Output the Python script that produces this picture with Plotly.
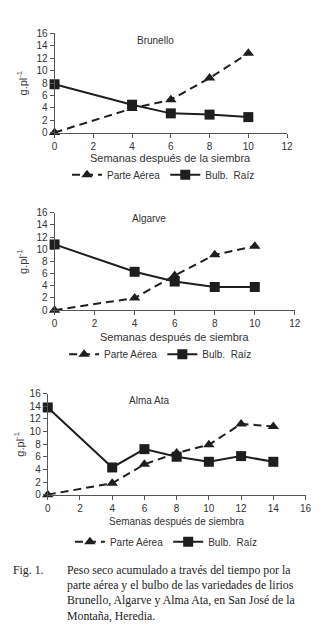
import plotly.graph_objects as go

# ---- data ----
weeks_bru = [0, 4, 6, 8, 10]
bru_aerea = [0.0, 3.9, 5.3, 8.8, 12.8]
bru_bulbo = [7.8, 4.5, 3.1, 2.9, 2.5]

weeks_alg = [0, 4, 6, 8, 10]
alg_aerea = [0.0, 2.0, 5.7, 9.1, 10.5]
alg_bulbo = [10.8, 6.3, 4.7, 3.8, 3.8]

weeks_alm = [0, 4, 6, 8, 10, 12, 14]
alm_aerea = [0.0, 1.8, 4.8, 6.6, 7.9, 11.2, 10.8]
alm_bulbo = [13.8, 4.3, 7.2, 6.0, 5.2, 6.1, 5.2]

titles = ["Brunello", "Algarve", "Alma Ata"]
xtitles = ["Semanas después de la siembra", "Semanas después de siembra", "Semanas después de siembra"]
series_names = ["Parte Aérea", "Bulb.  Raíz"]
caption_label = "Fig. 1."
caption_lines = [
    "Peso seco acumulado a través del tiempo por la",
    "parte aérea y el bulbo de las variedades de lirios",
    "Brunello, Algarve y Alma Ata, en San José de la",
    "Montaña, Heredia.",
]

W, H = 331, 638
def px(x): return x / W
def py(y): return (H - y) / H

LINE = "#1e1e1e"
TXT = "#333333"
FONT = "Liberation Sans"

fig = go.Figure()

panels = [
    dict(x=weeks_bru, a=bru_aerea, b=bru_bulbo, xd=[53, 292], yd=[129, 28], xmax=12, ax="", leg="legend",
         title_xy=(157, 35), xt_y=155, leg_xy=(165, 172), yt_x=20),
    dict(x=weeks_alg, a=alg_aerea, b=alg_bulbo, xd=[53, 300], yd=[310, 210.7], xmax=12, ax="2", leg="legend2",
         title_xy=(150, 217), xt_y=337, leg_xy=(162, 355), yt_x=20),
    dict(x=weeks_alm, a=alm_aerea, b=alm_bulbo, xd=[46, 311], yd=[498, 395], xmax=16, ax="3", leg="legend3",
         title_xy=(150, 402), xt_y=525, leg_xy=(168, 546), yt_x=17),
]

annotations = []
for i, p in enumerate(panels):
    xa = "x" + p["ax"]
    ya = "y" + p["ax"]
    fig.add_trace(go.Scatter(
        x=p["x"], y=p["a"], name=series_names[0], mode="lines+markers",
        line=dict(color=LINE, width=2, dash="8px,5px"),
        marker=dict(symbol="triangle-up", size=10, color=LINE),
        xaxis=xa, yaxis=ya, legend=p["leg"], cliponaxis=False))
    fig.add_trace(go.Scatter(
        x=p["x"], y=p["b"], name=series_names[1], mode="lines+markers",
        line=dict(color=LINE, width=2),
        marker=dict(symbol="square", size=10, color=LINE),
        xaxis=xa, yaxis=ya, legend=p["leg"], cliponaxis=False))

    axcommon = dict(showgrid=False, zeroline=False, showline=True, linecolor="#555", linewidth=1,
                    ticks="outside", ticklen=4, tickcolor="#555",
                    tickfont=dict(family=FONT, size=10, color=TXT))
    fig.update_layout(**{
        "xaxis" + p["ax"]: dict(domain=[px(p["xd"][0]), px(p["xd"][1])], range=[0, p["xmax"]],
                                dtick=2, anchor="y" + p["ax"], **axcommon),
        "yaxis" + p["ax"]: dict(domain=[py(p["yd"][0]), py(p["yd"][1])], range=[0, 16],
                                dtick=2, anchor="x" + p["ax"], **axcommon),
        p["leg"]: dict(orientation="h", x=px(p["leg_xy"][0]), y=py(p["leg_xy"][1]),
                       xanchor="center", yanchor="middle", font=dict(family=FONT, size=10, color=TXT),
                       bgcolor="rgba(0,0,0,0)", tracegroupgap=0),
    })
    annotations.append(dict(text=titles[i], x=px(p["title_xy"][0]), y=py(p["title_xy"][1]),
                            xref="paper", yref="paper", showarrow=False, xanchor="center", yanchor="middle",
                            font=dict(family=FONT, size=10, color=TXT)))
    annotations.append(dict(text=xtitles[i], x=(px(p["xd"][0]) + px(p["xd"][1])) / 2, y=py(p["xt_y"]),
                            xref="paper", yref="paper", showarrow=False, xanchor="center", yanchor="middle",
                            font=dict(family=FONT, size=11 if i < 2 else 10, color=TXT)))
    annotations.append(dict(text="g.pl<sup>-1</sup>", x=px(p["yt_x"]), y=(py(p["yd"][0]) + py(p["yd"][1])) / 2,
                            xref="paper", yref="paper", showarrow=False, textangle=-90,
                            xanchor="center", yanchor="middle",
                            font=dict(family=FONT, size=11, color=TXT)))

SERIF = "Liberation Serif"
annotations.append(dict(text=caption_label, x=px(8), y=py(575), xref="paper", yref="paper",
                        xanchor="left", yanchor="middle", showarrow=False,
                        font=dict(family=SERIF, size=11.8, color="#222")))
for j, line in enumerate(caption_lines):
    annotations.append(dict(text=line, x=px(64), y=py(575 + 15.4 * j), xref="paper", yref="paper",
                            xanchor="left", yanchor="middle", showarrow=False,
                            font=dict(family=SERIF, size=11.8, color="#222")))

fig.update_layout(width=W, height=H, margin=dict(l=0, r=0, t=0, b=0),
                  paper_bgcolor="white", plot_bgcolor="white",
                  annotations=annotations, showlegend=True)

fig.write_html("out.html", config={"displayModeBar": False},
               post_script="document.body.style.margin='0';")
